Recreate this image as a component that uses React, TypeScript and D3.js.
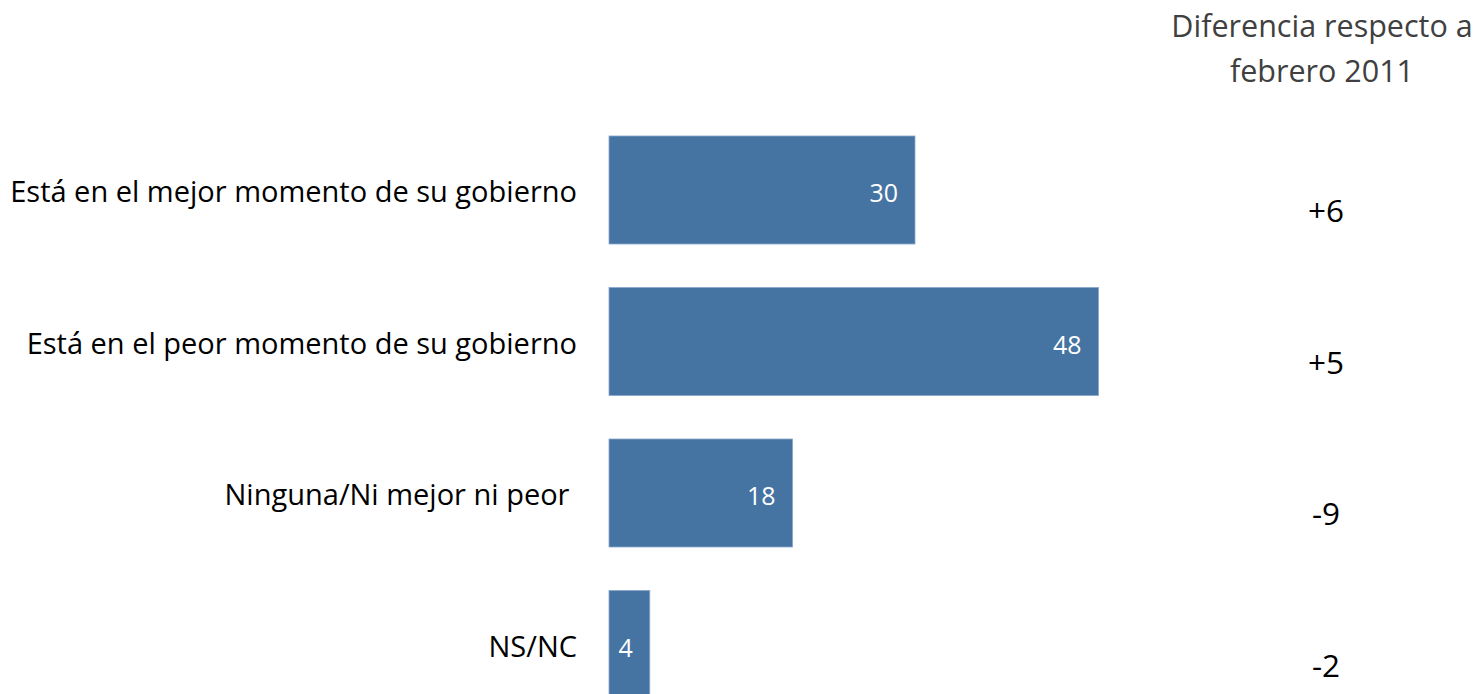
import React from "react";
import * as d3 from "d3";

const categories = [
  "Está en el mejor momento de su gobierno",
  "Está en el peor momento de su gobierno",
  "Ninguna/Ni mejor ni peor ",
  "NS/NC",
];
const values = [30, 48, 18, 4];
const differences = ["+6", "+5", "-9", "-2"];
const titleLines = ["Diferencia respecto a", "febrero 2011"];

const W = 1482;
const H = 694;
const FONT = "'Open Sans', Lato, sans-serif";

export default function App() {
  const x = d3.scaleLinear().domain([0, 50]).range([609, 1119]);
  const step = 151.5;
  const p = 0.287;
  const y0 = 114.25;
  const y = d3
    .scaleBand<string>()
    .domain(categories)
    .range([y0, y0 + categories.length * step])
    .paddingInner(p)
    .paddingOuter(p / 2);

  return (
    <svg
      width={W}
      height={H}
      style={{ position: "absolute", left: 0, top: 0, background: "#fff" }}
      fontFamily={FONT}
    >
      {titleLines.map((t, i) => (
        <text
          key={t}
          x={1322}
          y={37 + i * 45}
          textAnchor="middle"
          fontSize={30.5}
          fill="#404040"
        >
          {t}
        </text>
      ))}
      {categories.map((c, i) => {
        const yb = y(c)!;
        const cy = yb + y.bandwidth() / 2;
        return (
          <g key={c}>
            <rect
              x={x(0)}
              y={yb}
              width={x(values[i]) - x(0)}
              height={y.bandwidth()}
              fill="#4674A2"
              stroke="#8aa8cc"
              strokeWidth={0.8}
            />
            <text
              x={577}
              y={cy + 12}
              textAnchor="end"
              fontSize={29}
              fill="#000"
              style={{ whiteSpace: "pre" }}
            >
              {c}
            </text>
            <text
              x={x(values[i]) - 17}
              y={cy + 12}
              textAnchor="end"
              fontSize={25}
              fill="#fff"
            >
              {values[i]}
            </text>
            <text
              x={1326}
              y={cy + 32}
              textAnchor="middle"
              fontSize={31.5}
              fill="#000"
            >
              {differences[i]}
            </text>
          </g>
        );
      })}
    </svg>
  );
}
